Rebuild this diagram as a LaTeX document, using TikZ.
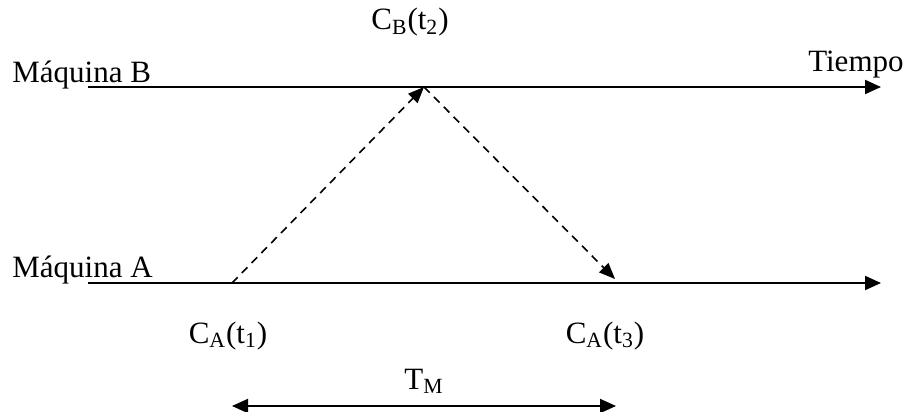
\documentclass[tikz,border=0pt]{standalone}
\usepackage{fontspec}
\setmainfont{Liberation Serif}
\usetikzlibrary{arrows.meta}

\tikzset{
  timeline/.style={line width=1pt, -{Triangle[length=8pt,width=7pt]}},
  message/.style={line width=0.8pt, dash pattern=on 4pt off 3pt, -{Triangle[length=8pt,width=6.5pt]}},
  interval/.style={line width=1pt, {Triangle[length=8pt,width=7pt]}-{Triangle[length=8pt,width=7pt]}},
  label/.style={font=\fontsize{15.5}{18}\selectfont, inner sep=0pt}
}

\begin{document}
\begin{tikzpicture}[x=0.5pt, y=0.5pt]
\useasboundingbox (0,0) rectangle (906,-412);

  % Vertices
  \coordinate (Bstart) at (88,-87);
  \coordinate (Bend)   at (881,-87);
  \coordinate (Astart) at (88,-283);
  \coordinate (Aend)   at (881,-283);
  \coordinate (t1) at (232,-283);
  \coordinate (t2) at (424,-87);
  \coordinate (t3) at (615,-279);
  \coordinate (Ml) at (232,-406);
  \coordinate (Mr) at (616,-406);

  % Labels
  \node[label, anchor=base west] (machB) at (12,-83) {Máquina B};
  \node[label, anchor=base west] (machA) at (12,-277) {Máquina A};
  \node[label, anchor=base east] (time) at (904,-71) {Tiempo};
  \node[label, anchor=base] (cb) at (410,-30) {C\textsubscript{B}(t\textsubscript{2})};
  \node[label, anchor=base] (ca1) at (228,-343) {C\textsubscript{A}(t\textsubscript{1})};
  \node[label, anchor=base] (ca3) at (605,-343) {C\textsubscript{A}(t\textsubscript{3})};
  \node[label, anchor=base] (tm) at (424,-389) {T\textsubscript{M}};

  \draw[timeline] (Bstart) -- (Bend);
  \draw[timeline] (Astart) -- (Aend);
  \draw[message] (t1) -- (t2);
  \draw[message] (t2) -- (t3);
  \draw[interval] (Ml) -- (Mr);
\end{tikzpicture}
\end{document}
